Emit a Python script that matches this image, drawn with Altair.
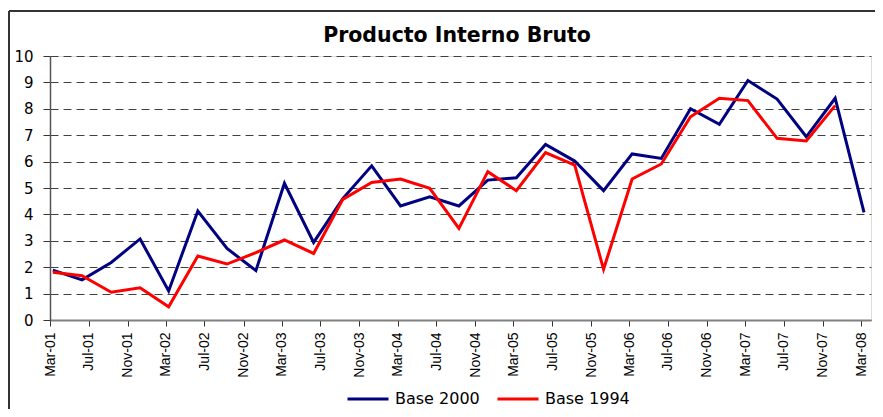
import altair as alt
import pandas as pd

quarters = [
    "2001-03-10", "2001-06-10", "2001-09-10", "2001-12-10",
    "2002-03-10", "2002-06-10", "2002-09-10", "2002-12-10",
    "2003-03-10", "2003-06-10", "2003-09-10", "2003-12-10",
    "2004-03-10", "2004-06-10", "2004-09-10", "2004-12-10",
    "2005-03-10", "2005-06-10", "2005-09-10", "2005-12-10",
    "2006-03-10", "2006-06-10", "2006-09-10", "2006-12-10",
    "2007-03-10", "2007-06-10", "2007-09-10", "2007-12-10",
    "2008-03-10",
]
base_2000 = [1.89, 1.52, 2.18, 3.07, 1.10, 4.13, 2.71, 1.87, 5.18, 2.94,
             4.60, 5.84, 4.32, 4.67, 4.32, 5.30, 5.39, 6.65, 6.02, 4.90,
             6.29, 6.12, 8.00, 7.41, 9.07, 8.37, 6.94, 8.40, 4.08]
base_1994 = [1.81, 1.68, 1.05, 1.22, 0.50, 2.42, 2.12, 2.55, 3.03, 2.52,
             4.57, 5.21, 5.34, 4.99, 3.47, 5.62, 4.90, 6.34, 5.87, 1.92,
             5.34, 5.91, 7.70, 8.40, 8.31, 6.88, 6.78, 8.12]
series_names = ["Base 2000", "Base 1994"]
series_colors = ["#000080", "#FF0000"]
chart_title = "Producto Interno Bruto"

tick_dates = []
for yr in range(2001, 2009):
    for mo in (3, 7, 11):
        if yr == 2008 and mo > 3:
            continue
        tick_dates.append(alt.DateTime(year=yr, month=mo, date=1))

rows = []
for d, v in zip(quarters, base_2000):
    rows.append({"fecha": d + "T00:00:00", "valor": v, "serie": series_names[0]})
for d, v in zip(quarters, base_1994):
    rows.append({"fecha": d + "T00:00:00", "valor": v, "serie": series_names[1]})
df = pd.DataFrame(rows)

lines = alt.Chart(df).mark_line(strokeWidth=3).encode(
    x=alt.X(
        "fecha:T",
        title=None,
        scale=alt.Scale(domain=[alt.DateTime(year=2001, month=3, date=1),
                                alt.DateTime(year=2008, month=4, date=1)]),
        axis=alt.Axis(
            values=tick_dates,
            format="%b-%y",
            labelAngle=270,
            grid=False,
            tickSize=6,
            tickColor="#333333",
            domainColor="#808080",
            domainWidth=2,
            labelPadding=6,
            labelFont="Liberation Sans",
            labelFontSize=14,
            labelColor="#000000",
        ),
    ),
    y=alt.Y(
        "valor:Q",
        title=None,
        scale=alt.Scale(domain=[0, 10], nice=False),
        axis=alt.Axis(
            values=list(range(0, 11)),
            grid=True,
            gridDash=[8, 5],
            gridColor="#404040",
            gridWidth=1,
            tickSize=7,
            tickColor="#333333",
            domainColor="#555555",
            domainWidth=1.5,
            labelPadding=10,
            labelFont="DejaVu Sans",
            labelFontSize=15,
            labelColor="#000000",
        ),
    ),
    color=alt.Color(
        "serie:N",
        scale=alt.Scale(domain=series_names, range=series_colors),
        legend=alt.Legend(
            title=None,
            orient="none",
            direction="horizontal",
            legendX=296,
            legendY=321,
            symbolType="stroke",
            symbolSize=1681,
            symbolStrokeWidth=3,
            labelOffset=5,
            columnPadding=11,
            padding=0,
            labelFont="DejaVu Sans",
            labelFontSize=16,
            labelColor="#000000",
        ),
    ),
)

one_row = pd.DataFrame({"k": [0]})
left_border = alt.Chart(one_row).mark_rule(color="#333333", strokeWidth=2).encode(
    x=alt.value(-41), y=alt.value(-45), y2=alt.value(400)
)
top_border = alt.Chart(one_row).mark_rule(color="#333333", strokeWidth=2).encode(
    x=alt.value(-41), x2=alt.value(900), y=alt.value(-45)
)
title_text = alt.Chart(one_row).mark_text(
    text=chart_title,
    font="DejaVu Sans",
    fontSize=20.5,
    fontWeight="bold",
    color="#000000",
    align="center",
    baseline="alphabetic",
).encode(x=alt.value(407), y=alt.value(-14))

chart = alt.layer(left_border, top_border, title_text, lines).properties(
    width=821,
    height=264,
    autosize=alt.AutoSizeParams(type="none"),
    padding={"left": 42, "top": 48, "right": 4, "bottom": 89},
).configure_view(stroke=None).configure(background="#ffffff")

chart.save("out.html", embed_options={"renderer": "svg", "actions": False})
